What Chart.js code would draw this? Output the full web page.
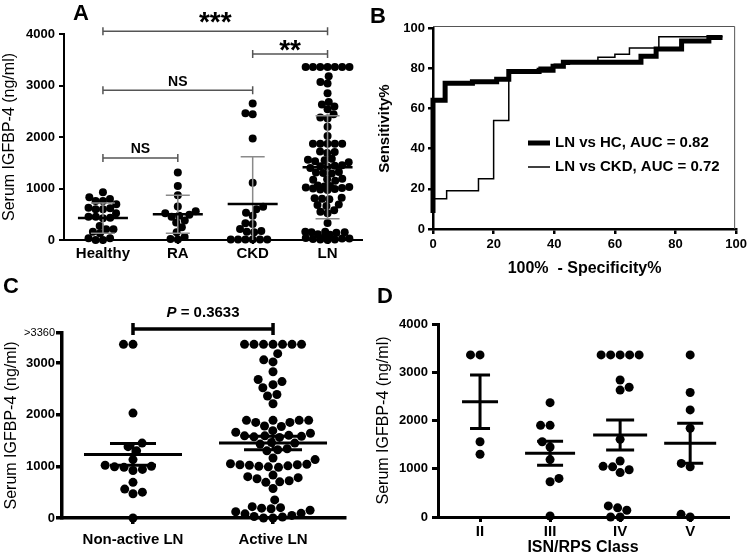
<!DOCTYPE html>
<html>
<head>
<meta charset="utf-8">
<title>Serum IGFBP-4</title>
<script src="https://cdn.jsdelivr.net/npm/chart.js@4.4.1/dist/chart.umd.min.js"></script>
<style>
  body { margin: 0; background: #fff; }
  #wrap { position: relative; width: 750px; height: 557px; overflow: hidden; font-family: "Liberation Sans", Arial, sans-serif; }
  canvas { position: absolute; }
  .tag { position: absolute; font-weight: bold; font-size: 22px; line-height: 1; }
</style>
</head>
<body>
<div id="wrap">
  <canvas id="chartA" width="370" height="270" style="left:0;top:0"></canvas>
  <canvas id="chartB" width="380" height="280" style="left:370px;top:0"></canvas>
  <canvas id="chartC" width="370" height="287" style="left:0;top:270px"></canvas>
  <canvas id="chartD" width="380" height="287" style="left:370px;top:270px"></canvas>
  <div class="tag" style="left:73px;top:2px">A</div>
  <div class="tag" style="left:370px;top:5px">B</div>
  <div class="tag" style="left:3px;top:275px">C</div>
  <div class="tag" style="left:377px;top:285px">D</div>
</div>
<script>
// ---- panel A: serum IGFBP-4 by group ----
const groupsA = ['Healthy', 'RA', 'CKD', 'LN'];
const healthy = [925, 757, 795, 828, 757, 692, 595, 615, 627, 595, 452, 452, 421, 433, 518, 207, 207, 272, 161, 130, 33, 0, 0, 33];
const ra = [1310, 1050, 870, 650, 560, 520, 490, 470, 450, 380, 340, 250, 150, 60, 10, 20];
const ckd = [2650, 2460, 2440, 1970, 1110, 646, 595, 530, 472, 310, 323, 175, 161, 213, 149, 10, 10, 10, 10, 10, 10];
const lnAll = [3360, 3360, 3360, 3360, 3360, 3360, 3360,
  3180, 3070, 3040, 2850, 2680, 2630, 2590, 2540, 2440, 2380, 2360, 2200, 2020,
  1870, 1870, 1870, 1870, 1870, 1720, 1710, 1690,
  1560, 1530, 1510, 1550, 1580, 1440, 1400, 1420, 1450, 1430,
  1300, 1320, 1290, 1310, 1180, 1150, 1190, 1170,
  1060, 1040, 1020, 1000, 980, 970, 990, 1010, 1030, 1050,
  810, 790, 800, 820, 680, 660, 690, 550, 520, 580, 330,
  160, 150, 140, 150, 160, 110, 100, 50, 30, 20, 10, 0, 10, 30, 40];
const meanA = [425, 500, 700, 1415];
const sdA = [295, 370, 915, 1000];
const bracketFromA = [1, 3, 1, 1];
const bracketToA = [4, 4, 3, 2];
const bracketLevelA = [4055, 3610, 2910, 1590];
const bracketTextA = ['***', '**', 'NS', 'NS'];

// ---- panel B: ROC curves ----
const rocHcFpr = [0, 0, 4, 13, 21, 25, 35, 39.6, 43, 68.6, 73.6, 82, 91, 95.5];
const rocHcSens = [8, 64, 72.5, 73.3, 74.5, 78.3, 79, 81, 83, 86, 89.5, 93.5, 95.3, 95.3];
const rocCkdFpr = [0, 0, 4.5, 15, 20, 25, 35, 40, 45, 54.4, 60, 64.8, 74.5, 95.5];
const rocCkdSens = [8, 15, 19, 25, 54, 78, 80.5, 82, 83.5, 85.4, 87, 90, 95.7, 95.7];
const rocLabels = ['LN vs HC, AUC = 0.82', 'LN vs CKD, AUC = 0.72'];

// ---- panel C: non-active vs active LN ----
const groupsC = ['Non-active LN', 'Active LN'];
const nonActive = [3360, 3360, 2030, 1450, 1380, 1300, 1130, 1020, 1000, 980, 990, 940, 920, 690, 560, 500, 470, 0];
const active = [3360, 3360, 3360, 3360, 3360, 3360, 3360,
  3180, 3060, 3020, 2830, 2640, 2680, 2580, 2520, 2390, 2360, 2210,
  1890, 1890, 1890, 1890, 1850, 1850, 1780, 1770, 1690, 1660, 1640,
  1590, 1580, 1600, 1570, 1590, 1560, 1450, 1430, 1460, 1320, 1300, 1340, 1160, 1130,
  1050, 1030, 1010, 990, 980, 1020, 1000, 1030, 1040,
  800, 780, 830, 760, 700, 690, 720, 570, 350, 220,
  190, 180, 120, 80, 50, 20, 0, 0, 30, 90, 150, 200];
const meanC = [1230, 1450];
const semC = [210, 130];
const pValueC = 'P = 0.3633';

// ---- panel D: by ISN/RPS class ----
const classesD = ['II', 'III', 'IV', 'V'];
const classII = [3360, 3360, 1560, 1300];
const classIII = [2370, 1900, 1900, 1560, 1450, 1190, 800, 730, 20];
const classIV = [3360, 3360, 3360, 3360, 3360, 2840, 2690, 2630, 1610, 1160, 1050, 1040, 980, 920, 230, 190, 140, 0, 0];
const classV = [3360, 2580, 2220, 1840, 1110, 1040, 55, 0];
const meanD = [2390, 1320, 1700, 1530];
const semD = [555, 250, 310, 415];

const FONT = '"Liberation Sans", Arial, sans-serif';
Chart.defaults.font.family = FONT;
Chart.defaults.color = '#000';
Chart.defaults.animation = false;

// mean line + error bar per column
const statsPlugin = {
  id: 'stats',
  afterDatasetsDraw(chart, args, o) {
    const { ctx, scales: { x, y } } = chart;
    const pick = (v, i) => Array.isArray(v) ? v[i] : v;
    ctx.save();
    o.means.forEach((m, i) => {
      const cx = x.getPixelForValue(i + 1);
      const loV = m - o.errs[i];
      const hi = y.getPixelForValue(m + o.errs[i]);
      const lo = y.getPixelForValue(Math.max(loV, 0));
      const cap = pick(o.capHalf, i), mh = pick(o.meanHalf, i);
      ctx.strokeStyle = o.errColor;
      ctx.lineWidth = o.errWidth;
      ctx.beginPath();
      ctx.moveTo(cx, hi); ctx.lineTo(cx, lo);
      ctx.moveTo(cx - cap, hi); ctx.lineTo(cx + cap, hi);
      if (loV > 0) { ctx.moveTo(cx - cap, lo); ctx.lineTo(cx + cap, lo); }
      ctx.stroke();
      const my = y.getPixelForValue(m);
      ctx.strokeStyle = '#000';
      ctx.lineWidth = o.meanWidth;
      ctx.beginPath();
      ctx.moveTo(cx - mh, my); ctx.lineTo(cx + mh, my);
      ctx.stroke();
    });
    ctx.restore();
  }
};

// significance brackets with labels
const bracketPlugin = {
  id: 'brackets',
  afterDraw(chart, args, o) {
    const { ctx, scales: { x, y } } = chart;
    ctx.save();
    o.from.forEach((a, i) => {
      const x1 = x.getPixelForValue(a), x2 = x.getPixelForValue(o.to[i]);
      const yy = y.getPixelForValue(o.level[i]);
      ctx.strokeStyle = o.color;
      ctx.lineWidth = o.width;
      ctx.beginPath();
      ctx.moveTo(x1, yy); ctx.lineTo(x2, yy);
      [x1, x2].forEach(px => { ctx.moveTo(px, yy - o.tick); ctx.lineTo(px, yy + o.tick); });
      ctx.stroke();
      const segs = o.labels[i];
      let total = 0, desc = -1e9;
      segs.forEach(s => {
        ctx.font = s.font;
        const m = ctx.measureText(s.t);
        s.w = m.width;
        total += m.width;
        desc = Math.max(desc, m.actualBoundingBoxDescent);
      });
      const base = yy - o.gap[i] - desc;
      let px = (x1 + x2) / 2 - total / 2;
      ctx.fillStyle = '#000';
      ctx.textBaseline = 'alphabetic';
      ctx.textAlign = 'left';
      segs.forEach(s => { ctx.font = s.font; ctx.fillText(s.t, px, base); px += s.w; });
    });
    ctx.restore();
  }
};

// beeswarm offsets in pixels; dots squeeze together when a column gets too wide
function swarm(vals, uy, gap, limit) {
  const order = vals.map((v, i) => i).sort((a, b) => vals[a] - vals[b]);
  const placed = [], off = new Array(vals.length);
  order.forEach((i, k) => {
    const py = vals[i] * uy;
    const sgn = k % 2 ? 1 : -1;
    let g = gap, x;
    while (x === undefined) {
      const blocks = [];
      placed.forEach(p => {
        const dy = Math.abs(p.y - py);
        if (dy < g) {
          const w = Math.sqrt(g * g - dy * dy);
          blocks.push([p.x - w, p.x + w]);
        }
      });
      const cands = [0];
      blocks.forEach(b => cands.push(b[0], b[1]));
      cands.sort((a, b) => Math.abs(a) - Math.abs(b) || sgn * (a - b));
      x = cands.find(c => Math.abs(c) <= limit + 1e-6 &&
        blocks.every(b => c <= b[0] + 1e-6 || c >= b[1] - 1e-6));
      g *= 0.92;
    }
    placed.push({ x, y: py });
    off[i] = x;
  });
  return off;
}

function fillSwarm(chart, groups, gap, limit) {
  const xs = chart.scales.x, ys = chart.scales.y;
  const ux = Math.abs(xs.getPixelForValue(1) - xs.getPixelForValue(0));
  const uy = Math.abs(ys.getPixelForValue(0) - ys.getPixelForValue(1000)) / 1000;
  const pts = [];
  groups.forEach((vals, g) => {
    swarm(vals, uy, gap, limit).forEach((dx, i) => pts.push({ x: g + 1 + dx / ux, y: vals[i] }));
  });
  chart.data.datasets[0].data = pts;
  chart.update('none');
}

function catAxis(labels, min, max, o) {
  return {
    type: 'linear', min, max,
    afterBuildTicks: s => { s.ticks = labels.map((_, i) => ({ value: i + 1 })); },
    afterFit: s => { s.height = o.height; },
    ticks: { callback: v => labels[v - 1], font: { size: 15, weight: 'bold' }, padding: o.pad, maxRotation: 0, autoSkip: false },
    grid: { drawOnChartArea: false, tickLength: o.tick, color: '#000', lineWidth: o.lw },
    border: { color: '#000', width: o.lw },
    title: o.title
      ? { display: true, text: o.title, font: { size: 16, weight: 'bold' }, padding: { top: 0, bottom: o.titlePad } }
      : { display: false }
  };
}

function valAxis(o) {
  return {
    min: 0, max: o.max,
    afterBuildTicks: o.ticks ? (s => { s.ticks = o.ticks.map(v => ({ value: v })); }) : undefined,
    afterFit: s => { s.width = o.width; },
    ticks: { stepSize: o.step, callback: o.label || (v => String(v)), font: o.font, padding: o.pad },
    grid: { drawOnChartArea: false, tickLength: o.tick, color: '#000', lineWidth: o.lw },
    border: { color: '#000', width: o.lw },
    title: { display: true, text: o.title, font: o.titleFont, padding: { top: o.titlePad, bottom: 0 } }
  };
}

function dotChart(id, cfg) {
  return new Chart(document.getElementById(id), {
    type: 'scatter',
    data: { datasets: [{ data: [], pointRadius: cfg.r, pointBackgroundColor: '#000', pointBorderWidth: 0, clip: false }] },
    options: {
      responsive: false,
      events: [],
      layout: { padding: cfg.padding },
      scales: { x: cfg.x, y: cfg.y },
      plugins: Object.assign({ legend: { display: false }, tooltip: { enabled: false } }, cfg.plugins)
    },
    plugins: cfg.use
  });
}

// ---- A ----
const chartA = dotChart('chartA', {
  r: 4,
  padding: { left: 0, top: 34, right: 8, bottom: 0 },
  x: catAxis(groupsA, 0.48, 4.46, { height: 30, pad: 1, tick: 4, lw: 2 }),
  y: valAxis({ max: 4000, step: 1000, width: 64, pad: 4, tick: 5, lw: 2,
    font: { size: 13, weight: 'bold' }, title: 'Serum IGFBP-4 (ng/ml)', titleFont: { size: 16 }, titlePad: 0 }),
  use: [statsPlugin, bracketPlugin],
  plugins: {
    stats: { means: meanA, errs: sdA, capHalf: 12, meanHalf: 25, errColor: '#8a8a8a', errWidth: 1.5, meanWidth: 2.5 },
    brackets: {
      from: bracketFromA, to: bracketToA, level: bracketLevelA, color: '#555', width: 1.5, tick: 4,
      gap: [8, 3, 4, 5],
      labels: bracketTextA.map(t => [{ t, font: t.includes('*') ? 'bold 28px ' + FONT : 'bold 14px ' + FONT }])
    }
  }
});
fillSwarm(chartA, [healthy, ra, ckd, lnAll], 7.3, 23);

// ---- B ----
const rocLegend = {
  id: 'rocLegend',
  afterDraw(chart) {
    const { ctx, chartArea: a } = chart;
    ctx.save();
    ctx.strokeStyle = '#555';
    ctx.lineWidth = 1;
    ctx.beginPath();
    ctx.moveTo(a.left, a.top - 1.5); ctx.lineTo(a.right - 1.5, a.top - 1.5); ctx.lineTo(a.right - 1.5, a.bottom);
    ctx.stroke();
    ctx.strokeStyle = '#000';
    ctx.fillStyle = '#000';
    ctx.font = 'bold 15px ' + FONT;
    ctx.textBaseline = 'middle';
    [[5, 143], [1.5, 167]].forEach(([w, yy], i) => {
      ctx.lineWidth = w;
      ctx.beginPath();
      ctx.moveTo(158, yy); ctx.lineTo(180, yy);
      ctx.stroke();
      ctx.fillText(rocLabels[i], 185, yy);
    });
    ctx.restore();
  }
};

const rocAxis = (o) => ({
  min: 0, max: 100,
  afterFit: o.fit,
  ticks: { stepSize: 20, font: { size: 13, weight: 'bold' }, padding: 3 },
  grid: { drawOnChartArea: false, tickLength: 5, color: '#000', lineWidth: 2.5 },
  border: { color: '#000', width: 2.5 },
  title: o.title
});

new Chart(document.getElementById('chartB'), {
  type: 'line',
  data: {
    datasets: [
      { data: rocHcFpr.map((v, i) => ({ x: v, y: rocHcSens[i] })), borderColor: '#000', borderWidth: 5,
        stepped: 'before', pointRadius: 0, borderJoinStyle: 'miter', clip: false },
      { data: rocCkdFpr.map((v, i) => ({ x: v, y: rocCkdSens[i] })), borderColor: '#000', borderWidth: 1.5,
        stepped: 'before', pointRadius: 0, borderJoinStyle: 'miter', clip: false }
    ]
  },
  options: {
    responsive: false,
    events: [],
    layout: { padding: { left: 0, top: 28, right: 13, bottom: 0 } },
    scales: {
      x: Object.assign({ type: 'linear' }, rocAxis({
        fit: s => { s.height = 51; },
        title: { display: true, text: '100%  - Specificity%', font: { size: 16, weight: 'bold' }, padding: { top: 0, bottom: 2 } }
      })),
      y: rocAxis({
        fit: s => { s.width = 63; },
        title: { display: true, text: 'Sensitivity%', font: { size: 15, weight: 'bold' }, padding: { top: 6, bottom: 0 } }
      })
    },
    plugins: { legend: { display: false }, tooltip: { enabled: false } }
  },
  plugins: [rocLegend]
});

// ---- C ----
const narrow = '"Liberation Sans Narrow", "Liberation Sans", Arial, sans-serif';
const chartC = dotChart('chartC', {
  r: 4.5,
  padding: { left: 0, top: 63, right: 25, bottom: 0 },
  x: catAxis(groupsC, 0.493, 2.514, { height: 39, pad: 7, tick: 6, lw: 3.5 }),
  y: valAxis({ max: 3580, ticks: [0, 1000, 2000, 3000, 3580], width: 62, pad: 1, tick: 6, lw: 3.5,
    label: v => v > 3000 ? '>3360' : String(v),
    font: c => (c.tick && c.tick.value > 3000)
      ? { size: 11, weight: 'normal', family: narrow }
      : { size: 13, weight: 'bold', family: narrow },
    title: 'Serum IGFBP-4 (ng/ml)', titleFont: { size: 16 }, titlePad: 2 }),
  use: [statsPlugin, bracketPlugin],
  plugins: {
    stats: { means: meanC, errs: semC, capHalf: [23, 29], meanHalf: [49, 54], errColor: '#000', errWidth: 3, meanWidth: 3 },
    brackets: {
      from: [1], to: [2], level: [3655], color: '#000', width: 3.5, tick: 6, gap: [12],
      labels: [[{ t: pValueC.slice(0, 1), font: 'italic bold 15px ' + FONT }, { t: pValueC.slice(1), font: 'bold 15px ' + FONT }]]
    }
  }
});
fillSwarm(chartC, [nonActive, active], 9.5, 44);

// ---- D ----
const chartD = dotChart('chartD', {
  r: 4.5,
  padding: { left: 0, top: 54, right: 22, bottom: 0 },
  x: catAxis(classesD, 0.4, 4.54, { height: 40, pad: 1, tick: 5, lw: 3, title: 'ISN/RPS Class', titlePad: 0 }),
  y: valAxis({ max: 4000, step: 1000, width: 68, pad: 4, tick: 6, lw: 3,
    font: { size: 13, weight: 'bold' }, title: 'Serum IGFBP-4 (ng/ml)', titleFont: { size: 16 }, titlePad: 4 }),
  use: [statsPlugin],
  plugins: {
    stats: { means: meanD, errs: semD, capHalf: [10, 13, 14, 13], meanHalf: [18, 25, 27, 26], errColor: '#000', errWidth: 3, meanWidth: 3 }
  }
});
fillSwarm(chartD, [classII, classIII, classIV, classV], 9.5, 20);
</script>
</body>
</html>
